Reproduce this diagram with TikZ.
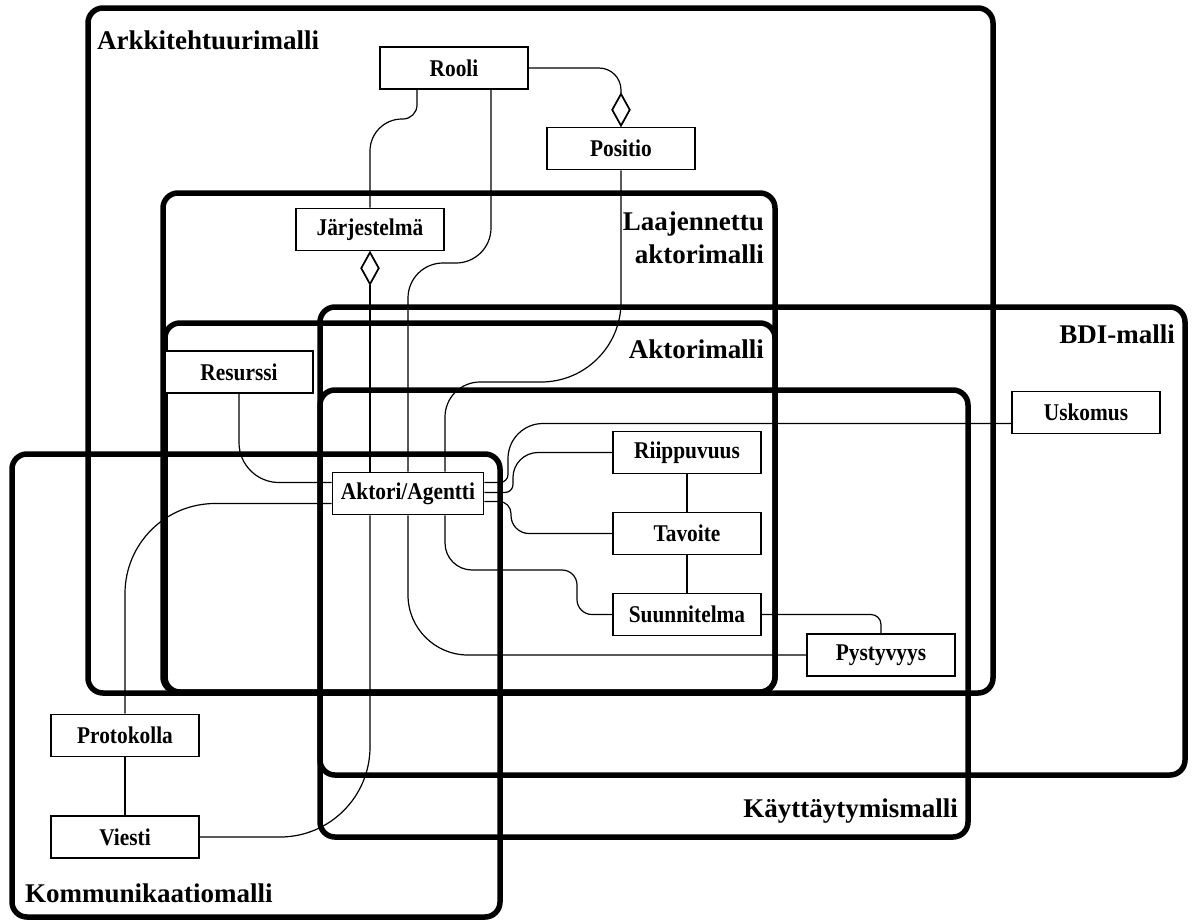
\documentclass[tikz,border=0pt]{standalone}
\usepackage{fontspec}
\setmainfont{Liberation Serif}
\newfontfamily\entityfont{Liberation Serif}[FakeStretch=0.89]
\usetikzlibrary{shapes.geometric}

\begin{document}
\begin{tikzpicture}[x=1pt,y=-1pt,
  region/.style={draw, line width=5.5pt, rounded corners=15pt},
  regionlabel/.style={font=\fontsize{27}{33}\selectfont\bfseries, inner sep=0pt},
  entity/.style={draw, fill=white, line width=1.8pt, minimum width=148pt,
    minimum height=42pt, inner sep=0pt, font=\entityfont\fontsize{24}{26}\selectfont\bfseries},
  link/.style={line width=1.2pt},
  agg/.style={diamond, draw, fill=white, line width=1.6pt, minimum width=18pt,
    minimum height=32pt, inner sep=0pt}
]
\fill[white] (0,0) rectangle (1194,922);
\useasboundingbox (0,0) rectangle (1194,922);

% model regions
\draw[region] (88,8) rectangle (993,693);
\draw[region] (163,193) rectangle (775,692);
\draw[region] (165,323) rectangle (775,692);
\draw[region] (320,307) rectangle (1185,775);
\draw[region] (320,390) rectangle (968,837);
\draw[region] (12,454) rectangle (500,917);

% region titles
\node[regionlabel, anchor=base west] (tArk) at (97,49) {Arkkitehtuurimalli};
\node[regionlabel, anchor=base east, align=right] (tLaaj) at (764,263) {Laajennettu\\aktorimalli};
\node[regionlabel, anchor=base east] (tAkt) at (764,358) {Aktorimalli};
\node[regionlabel, anchor=base east] (tBDI) at (1175,343) {BDI-malli};
\node[regionlabel, anchor=base east] (tKay) at (958,817) {Käyttäytymismalli};
\node[regionlabel, anchor=base west] (tKom) at (25,902) {Kommunikaatiomalli};

% entities
\node[entity] (Rooli) at (454,68) {Rooli};
\node[entity] (Positio) at (621,148.5) {Positio};
\node[entity] (Jarj) at (370,229.5) {Järjestelmä};
\node[entity] (Resurssi) at (239,372) {Resurssi};
\node[entity, minimum width=151pt] (Aktori) at (408,493.5) {Aktori/Agentti};
\node[entity] (Riippuvuus) at (687,452.5) {Riippuvuus};
\node[entity] (Tavoite) at (687,533.5) {Tavoite};
\node[entity] (Suunnitelma) at (687,614.5) {Suunnitelma};
\node[entity] (Uskomus) at (1086,412.5) {Uskomus};
\node[entity] (Pystyvyys) at (881,655) {Pystyvyys};
\node[entity] (Protokolla) at (125,735.5) {Protokolla};
\node[entity] (Viesti) at (125,837) {Viesti};

% aggregation diamonds
\node[agg, anchor=south] (dPos) at (Positio.north) {};
\node[agg, anchor=north] (dJarj) at (Jarj.south) {};

% connectors
\begin{scope}[link]
\draw[rounded corners=22pt] (Rooli.east) -- (dPos.north |- Rooli.east) -- (dPos.north);
\draw ([xshift=-37pt]Rooli.south) [rounded corners=14pt] -- (417,119)
      [rounded corners=32pt] -- (370,119) -- (Jarj.north);
\draw ([xshift=37pt]Rooli.south) [rounded corners=35pt] -- (491,263) -- (408,263) -- (Aktori.north);
\draw (Positio.south) [rounded corners=80pt] -- (621,382)
      [rounded corners=35pt] -- (445,382) -- ([xshift=37pt]Aktori.north);
\draw (dJarj.south) -- ([xshift=-38pt]Aktori.north);
\draw (Resurssi.south) [rounded corners=40pt] -- (239,482.5) -- ([yshift=11pt]Aktori.west);
\draw ([yshift=-10pt]Aktori.west) [rounded corners=90pt] -- (125,503.5) -- (Protokolla.north);
\draw (Protokolla) -- (Viesti);
\draw ([xshift=37pt]Aktori.south) [rounded corners=27pt] -- (445,570)
      [rounded corners=15pt] -- (577,570) -- (577,614.5) -- (Suunnitelma.west);
\draw (Aktori.south) [rounded corners=60pt] -- (408,655) -- (Pystyvyys.west);
\draw ([xshift=-38pt]Aktori.south) [rounded corners=90pt] -- (370,837) -- (Viesti.east);
\draw ([yshift=11pt]Aktori.east) [rounded corners=8pt] -- (508,482.5)
      [rounded corners=35pt] -- (508,423.5) -- ([yshift=-11pt]Uskomus.west);
\draw ([yshift=1pt]Aktori.east) [rounded corners=8pt] -- (513,492.5)
      [rounded corners=25pt] -- (513,452.5) -- (Riippuvuus.west);
\draw ([yshift=-8pt]Aktori.east) [rounded corners=12pt] -- (511,501.5)
      [rounded corners=18pt] -- (511,533.5) -- (Tavoite.west);
\draw (Riippuvuus) -- (Tavoite);
\draw (Tavoite) -- (Suunnitelma);
\draw (Suunnitelma.east) [rounded corners=10pt] -- (881,614.5) -- (Pystyvyys.north);
\end{scope}

% redraw entities above the connectors
\foreach \n/\t in {Rooli/Rooli, Positio/Positio, Jarj/Järjestelmä, Resurssi/Resurssi,
  Riippuvuus/Riippuvuus, Tavoite/Tavoite, Suunnitelma/Suunnitelma, Uskomus/Uskomus,
  Pystyvyys/Pystyvyys, Protokolla/Protokolla, Viesti/Viesti}
  \node[entity] at (\n) {\t};
\node[entity, minimum width=151pt] at (Aktori) {Aktori/Agentti};
\node[agg] at (dPos) {};
\node[agg] at (dJarj) {};
\end{tikzpicture}
\end{document}
